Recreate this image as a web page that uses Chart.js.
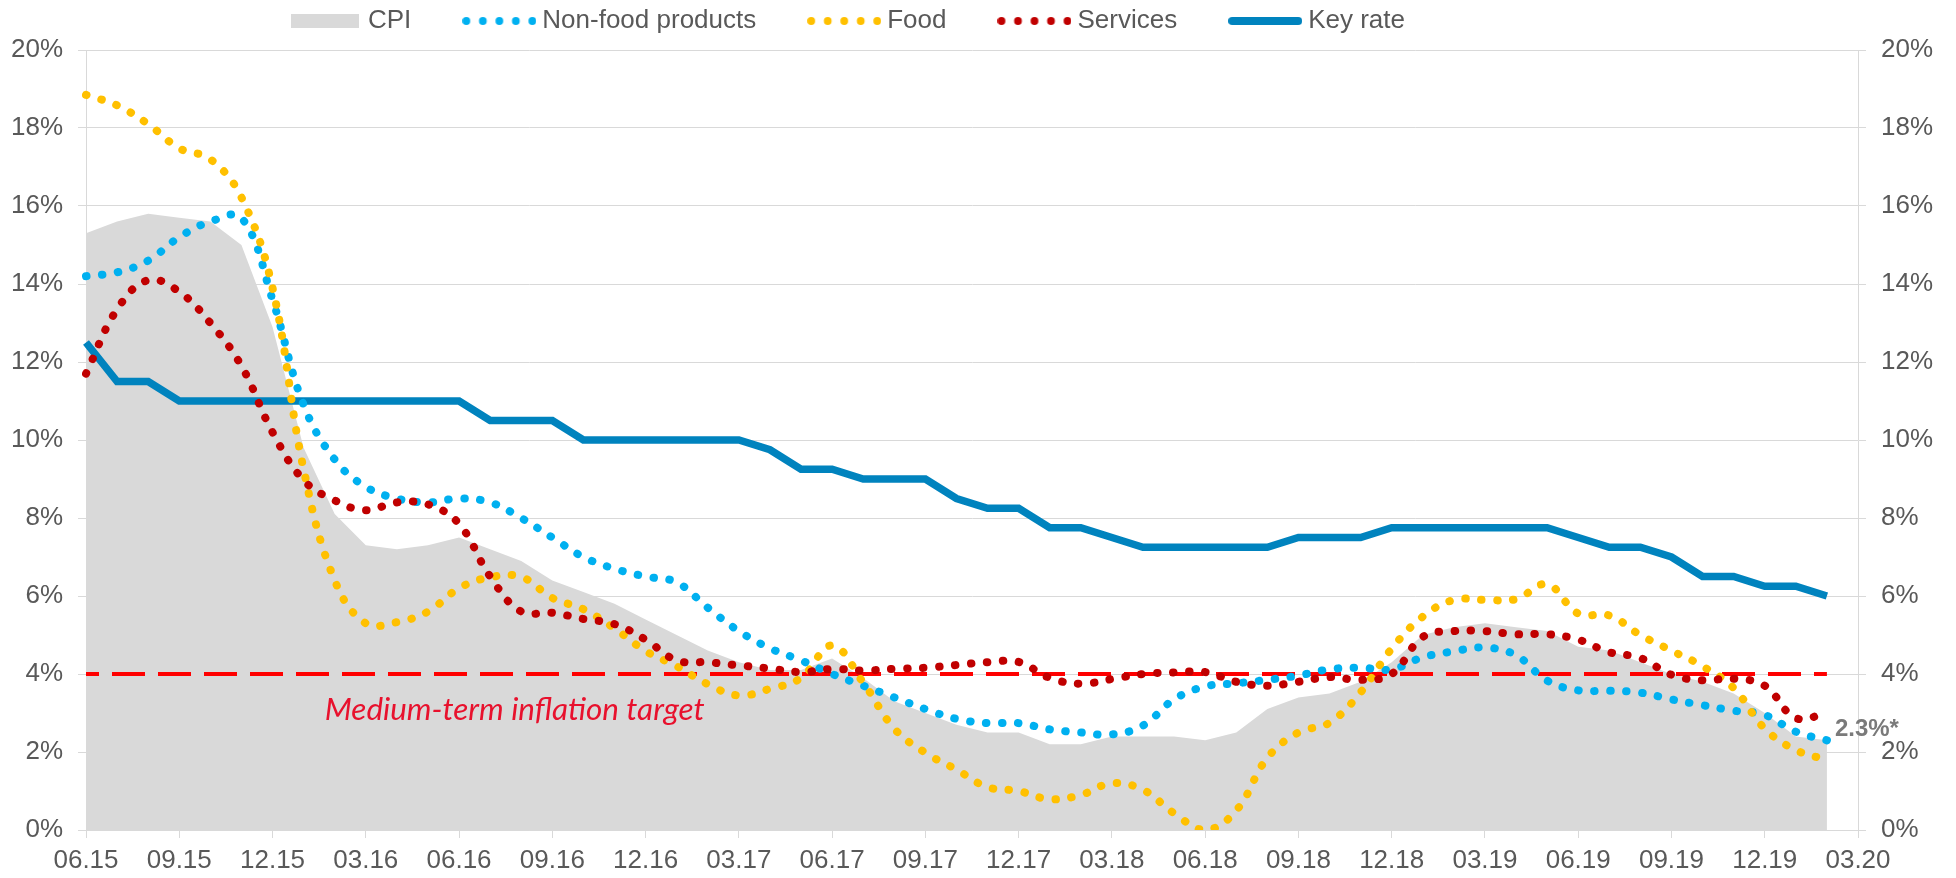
<!DOCTYPE html>
<html>
<head>
<meta charset="utf-8">
<title>Inflation and key rate</title>
<script src="https://cdn.jsdelivr.net/npm/chart.js@4/dist/chart.umd.min.js"></script>
<style>
  html, body { margin: 0; padding: 0; background: #fff; }
  #wrap { width: 1956px; height: 878px; position: relative; }
</style>
</head>
<body>
<div id="wrap"><canvas id="chart"></canvas></div>
<script>
// month labels, 06.15 .. 03.20 (only every 3rd one is printed)
const months = [
  '06.15', '07.15', '08.15', '09.15', '10.15', '11.15', '12.15',
  '01.16', '02.16', '03.16', '04.16', '05.16', '06.16', '07.16', '08.16', '09.16', '10.16', '11.16', '12.16',
  '01.17', '02.17', '03.17', '04.17', '05.17', '06.17', '07.17', '08.17', '09.17', '10.17', '11.17', '12.17',
  '01.18', '02.18', '03.18', '04.18', '05.18', '06.18', '07.18', '08.18', '09.18', '10.18', '11.18', '12.18',
  '01.19', '02.19', '03.19', '04.19', '05.19', '06.19', '07.19', '08.19', '09.19', '10.19', '11.19', '12.19',
  '01.20', '02.20', '03.20'
];

// % y/y
const cpi = [
  15.3, 15.6, 15.8, 15.7, 15.6, 15.0, 12.9,
  9.8, 8.1, 7.3, 7.2, 7.3, 7.5, 7.2, 6.9, 6.4, 6.1, 5.8, 5.4,
  5.0, 4.6, 4.3, 4.1, 4.1, 4.4, 3.9, 3.3, 3.0, 2.7, 2.5, 2.5,
  2.2, 2.2, 2.4, 2.4, 2.4, 2.3, 2.5, 3.1, 3.4, 3.5, 3.8, 4.3,
  5.0, 5.2, 5.3, 5.2, 5.1, 4.7, 4.6, 4.3, 4.0, 3.8, 3.5, 3.0,
  2.4, 2.3
];
const nonFood = [
  14.2, 14.3, 14.6, 15.2, 15.6, 15.7, 13.6,
  10.9, 9.5, 8.8, 8.5, 8.4, 8.5, 8.4, 8.0, 7.5, 7.0, 6.7, 6.5,
  6.35, 5.7, 5.1, 4.66, 4.35, 4.0, 3.7, 3.4, 3.1, 2.85, 2.74, 2.74,
  2.58, 2.5, 2.45, 2.68, 3.35, 3.68, 3.76, 3.85, 3.96, 4.12, 4.16, 4.12,
  4.43, 4.58, 4.68, 4.48, 3.83, 3.58, 3.57, 3.52, 3.35, 3.2, 3.06, 2.95,
  2.52, 2.3
];
const food = [
  18.85, 18.58, 18.1, 17.48, 17.2, 16.22, 13.9,
  9.25, 6.4, 5.3, 5.33, 5.6, 6.2, 6.48, 6.49, 5.95, 5.66, 5.17, 4.59,
  4.2, 3.74, 3.45, 3.62, 3.9, 4.73, 3.78, 2.6, 1.98, 1.55, 1.1, 1.0,
  0.79, 0.9, 1.2, 1.03, 0.43, 0.0, 0.5, 1.85, 2.5, 2.75, 3.53, 4.65,
  5.47, 5.9, 5.9, 5.92, 6.3, 5.55, 5.5, 5.0, 4.6, 4.2, 3.64, 2.6,
  2.05, 1.8
];
const services = [
  11.7, 13.35, 14.1, 13.8, 13.0, 11.9, 10.2,
  8.97, 8.45, 8.2, 8.4, 8.35, 7.85, 6.5, 5.6, 5.57, 5.41, 5.28, 4.88,
  4.35, 4.3, 4.22, 4.14, 4.05, 4.13, 4.09, 4.13, 4.16, 4.23, 4.3, 4.31,
  3.9, 3.75, 3.87, 4.0, 4.04, 4.05, 3.8, 3.7, 3.8, 3.92, 3.85, 4.0,
  4.95, 5.1, 5.1, 5.02, 5.02, 4.88, 4.56, 4.41, 3.98, 3.84, 3.88, 3.7,
  2.87, 3.0
];
const keyRate = [
  12.5, 11.5, 11.5, 11, 11, 11, 11,
  11, 11, 11, 11, 11, 11, 10.5, 10.5, 10.5, 10, 10, 10,
  10, 10, 10, 9.75, 9.25, 9.25, 9, 9, 9, 8.5, 8.25, 8.25,
  7.75, 7.75, 7.5, 7.25, 7.25, 7.25, 7.25, 7.25, 7.5, 7.5, 7.5, 7.75,
  7.75, 7.75, 7.75, 7.75, 7.75, 7.5, 7.25, 7.25, 7, 6.5, 6.5, 6.25,
  6.25, 6
];
const targetLevel = 4;
const targetCaption = 'Medium-term inflation target';
const lastCpiLabel = '2.3%*';

const GREY_TEXT = '#595959';
const GRID = '#d9d9d9';

Chart.defaults.font.family = '"Liberation Sans", Arial, sans-serif';
Chart.defaults.font.size = 26;
Chart.defaults.color = GREY_TEXT;

// legend swatches
function legendIcon(kind, color) {
  const c = document.createElement('canvas');
  c.width = 74;
  c.height = 16;
  const g = c.getContext('2d');
  if (kind === 'area') {
    g.fillStyle = color;
    g.fillRect(3, 1, 68, 14);
  } else if (kind === 'dots') {
    g.fillStyle = color;
    for (let k = 0; k < 5; k++) {
      g.beginPath();
      g.arc(4 + k * 16.5, 8, 3.9, 0, 2 * Math.PI);
      g.fill();
    }
  } else {
    g.strokeStyle = color;
    g.lineWidth = 8;
    g.lineCap = 'round';
    g.beginPath();
    g.moveTo(4, 8);
    g.lineTo(70, 8);
    g.stroke();
  }
  return c;
}

const icons = [
  legendIcon('area', '#d9d9d9'),
  legendIcon('dots', '#00b0f0'),
  legendIcon('dots', '#ffc000'),
  legendIcon('dots', '#c00000'),
  legendIcon('line', '#0083be')
];

function dotted(label, data, color, order) {
  return {
    label: label,
    data: data,
    borderColor: color,
    backgroundColor: color,
    borderWidth: 8,
    borderDash: [0.5, 15.5],
    borderCapStyle: 'round',
    pointRadius: 0,
    tension: 0.4,
    fill: false,
    order: order
  };
}

// move the legend row up/left to where the original sits
// (only left/top, the legend is clipped to its own box)
const legendShift = {
  id: 'legendShift',
  afterLayout(chart) {
    const l = chart.legend;
    l.left -= 244;
    l.top -= 50;
  }
};

// target caption and last CPI value
const notes = {
  id: 'notes',
  afterDatasetsDraw(chart) {
    const { ctx, scales } = chart;
    ctx.save();
    ctx.fillStyle = '#e8112d';
    ctx.font = 'italic 100px Lato, "Open Sans", sans-serif';
    const size = 100 * 380 / ctx.measureText(targetCaption).width;
    ctx.font = 'italic ' + size.toFixed(1) + 'px Lato, "Open Sans", sans-serif';
    ctx.textAlign = 'left';
    ctx.textBaseline = 'alphabetic';
    ctx.fillText(targetCaption, scales.x.getPixelForValue(7.68), scales.y.getPixelForValue(2.83));

    const last = cpi.length - 1;
    ctx.fillStyle = '#7a7a7a';
    ctx.font = 'bold 24px "Liberation Sans", Arial, sans-serif';
    ctx.fillText(lastCpiLabel, scales.x.getPixelForValue(last) + 8, scales.y.getPixelForValue(cpi[last]) - 4);
    ctx.restore();
  }
};

const ctx = document.getElementById('chart').getContext('2d');
const chart = new Chart(ctx, {
  type: 'line',
  data: {
    labels: months,
    datasets: [
      {
        label: 'CPI',
        data: cpi,
        borderWidth: 0,
        borderColor: 'rgba(0,0,0,0)',
        backgroundColor: '#d9d9d9',
        pointRadius: 0,
        tension: 0,
        fill: 'origin',
        order: 6
      },
      dotted('Non-food products', nonFood, '#00b0f0', 3),
      dotted('Food', food, '#ffc000', 2),
      dotted('Services', services, '#c00000', 1),
      {
        label: 'Key rate',
        data: keyRate,
        borderColor: '#0083be',
        backgroundColor: '#0083be',
        borderWidth: 7.5,
        pointRadius: 0,
        tension: 0,
        fill: false,
        order: 5
      },
      {
        label: 'Target',
        data: cpi.map(() => targetLevel),
        borderColor: '#ff0000',
        borderWidth: 4,
        borderDash: [33, 13],
        borderDashOffset: 20,
        pointRadius: 0,
        fill: false,
        order: 4
      }
    ]
  },
  options: {
    responsive: true,
    maintainAspectRatio: false,
    animation: false,
    layout: { padding: { left: 11, right: 23, top: 0, bottom: 1 } },
    plugins: {
      tooltip: { enabled: false },
      legend: {
        position: 'top',
        maxHeight: 50,
        labels: {
          usePointStyle: true,
          pointStyleWidth: 60,
          padding: 58,
          color: GREY_TEXT,
          font: { size: 26 },
          filter: item => item.text !== 'Target',
          sort: (a, b) => a.datasetIndex - b.datasetIndex,
          generateLabels(chart) {
            const items = Chart.defaults.plugins.legend.labels.generateLabels(chart);
            items.forEach(it => { it.pointStyle = icons[it.datasetIndex]; });
            return items;
          }
        }
      }
    },
    scales: {
      x: {
        afterFit: s => { s.height = 47; },
        grid: {
          drawOnChartArea: false,
          tickLength: 8,
          color: c => (c.index % 3 === 0 ? GRID : 'rgba(0,0,0,0)')
        },
        border: { color: GRID },
        ticks: {
          autoSkip: false,
          maxRotation: 0,
          padding: 7,
          callback: (v, i) => (i % 3 === 0 ? months[i] : '')
        }
      },
      y: {
        min: 0,
        max: 20,
        afterFit: s => { s.width = 75; },
        grid: { color: GRID, tickLength: 8 },
        border: { color: GRID },
        ticks: { stepSize: 2, padding: 15, callback: v => v + '%' }
      },
      y2: {
        position: 'right',
        min: 0,
        max: 20,
        afterFit: s => { s.width = 75; },
        grid: { drawOnChartArea: false, color: GRID, tickLength: 8 },
        border: { color: GRID },
        ticks: { stepSize: 2, padding: 15, callback: v => v + '%' }
      }
    }
  },
  plugins: [legendShift, notes]
});
</script>
</body>
</html>
